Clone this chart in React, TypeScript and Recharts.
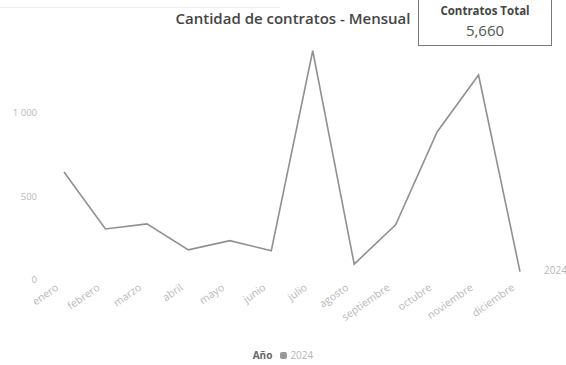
import { LineChart, Line, XAxis, YAxis, LabelList } from 'recharts'

const months = ['enero', 'febrero', 'marzo', 'abril', 'mayo', 'junio', 'julio', 'agosto', 'septiembre', 'octubre', 'noviembre', 'diciembre']
const contratos2024 = [645, 305, 335, 180, 235, 175, 1370, 95, 330, 885, 1225, 50]
const yTicks = [0, 500, 1000]
const seriesName = '2024'
const totalLabel = 'Contratos Total'
const totalValue = '5,660'

const data = months.map((m, i) => ({ mes: m, v2024: contratos2024[i] }))

const font = '"Open Sans", "Noto Sans", sans-serif'

const fmtThousands = (v: number) => String(v).replace(/\B(?=(\d{3})+(?!\d))/g, ' ')

const EndLabel = (props: any) => {
  const { x, y, index } = props
  if (index !== data.length - 1) return null
  return (
    <text x={x + 24} y={y + 2} fill="#b5b5b5" fontSize={10} fontFamily={font}>
      {seriesName}
    </text>
  )
}

export default function App() {
  return (
    <div style={{ position: 'absolute', left: 0, top: 0, width: 566, height: 365, background: '#fff', fontFamily: font }}>
      <div style={{ position: 'absolute', left: 0, top: 7, width: 280, borderTop: '1px solid #eeeeee' }} />
      <div style={{ position: 'absolute', left: 168, top: 8, width: 250, textAlign: 'center', fontSize: 15, fontWeight: 600, color: '#444' }}>
        Cantidad de contratos - Mensual
      </div>
      <div style={{ position: 'absolute', left: 418, top: -1, width: 134, height: 47, border: '1px solid #777', boxSizing: 'border-box', textAlign: 'center' }}>
        <div style={{ fontSize: 11.5, fontWeight: 700, color: '#444', marginTop: 3 }}>{totalLabel}</div>
        <div style={{ fontSize: 15, color: '#555', marginTop: 2 }}>{totalValue}</div>
      </div>

      <LineChart width={566} height={365} data={data} margin={{ top: 29, right: 25, left: 0, bottom: 25 }}>
        <XAxis
          dataKey="mes"
          axisLine={false}
          tickLine={false}
          interval={0}
          height={60}
          padding={{ left: 21, right: 21 }}
          tick={{ fill: '#b8b8b8', fontSize: 10.5, fontFamily: font, dx: -9 }}
          angle={-35}
          textAnchor="end"
          tickSize={0}
          tickMargin={3}
        />
        <YAxis
          domain={[0, 1500]}
          ticks={yTicks}
          width={43}
          axisLine={false}
          tickLine={false}
          tickSize={0}
          tickMargin={6}
          tickFormatter={fmtThousands}
          tick={{ fill: '#b8b8b8', fontSize: 9.5, fontFamily: font }}
        />
        <Line
          type="linear"
          dataKey="v2024"
          stroke="#909090"
          strokeWidth={1.6}
          dot={false}
          name={seriesName}
          isAnimationActive={false}
        >
          <LabelList dataKey="v2024" content={<EndLabel />} />
        </Line>
      </LineChart>

      <div style={{ position: 'absolute', left: 0, top: 348, width: 566, textAlign: 'center', fontSize: 10, color: '#888' }}>
        <span style={{ fontWeight: 700, color: '#666' }}>Año</span>
        <span style={{ display: 'inline-block', width: 7, height: 7, borderRadius: 2, background: '#999', margin: '0 3px 0 8px' }} />
        <span style={{ color: '#b5b5b5' }}>{seriesName}</span>
      </div>
    </div>
  )
}
